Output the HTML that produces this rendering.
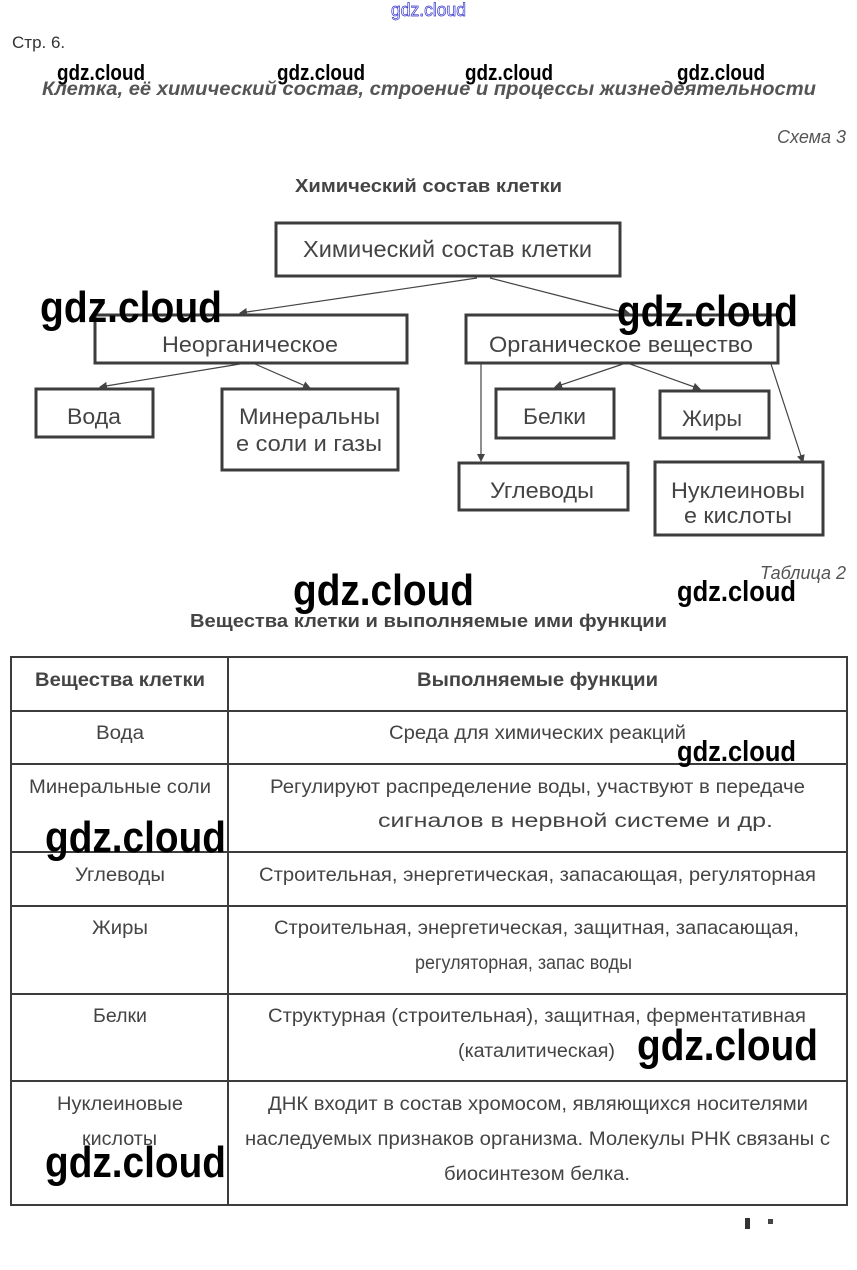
<!DOCTYPE html>
<html><head><meta charset="utf-8"><style>
html,body{margin:0;padding:0;background:#fff;width:857px;height:1270px;overflow:hidden}
svg{display:block}
.t{font-family:"Liberation Sans",sans-serif;fill:#444;font-size:18px}
.b{font-weight:bold}
.i{font-style:italic}
.w{font-family:"Liberation Sans",sans-serif;fill:#000;font-weight:bold}
</style></head><body>
<svg width="857" height="1270" viewBox="0 0 857 1270" xmlns="http://www.w3.org/2000/svg">
<defs><marker id="a" markerWidth="8" markerHeight="8" refX="7" refY="4" orient="auto" markerUnits="userSpaceOnUse"><path d="M0,0 L8,4 L0,8 z" fill="#444"/></marker></defs>
<text x="391" y="16" textLength="75" lengthAdjust="spacingAndGlyphs" style="font-family:'Liberation Sans',sans-serif;font-size:18px;fill:none;stroke:#3333cc;stroke-width:0.7">gdz.cloud</text>
<text class="t" x="12" y="48" style="font-size:17px;fill:#333">Стр. 6.</text>
<text class="t b i" x="42" y="95" textLength="774" lengthAdjust="spacingAndGlyphs" style="fill:#555;font-size:19px">Клетка, её химический состав, строение и процессы жизнедеятельности</text>
<text class="t i" x="846" y="143" text-anchor="end" style="fill:#555;font-size:18px">Схема 3</text>
<text class="t b" x="295" y="192" textLength="267" lengthAdjust="spacingAndGlyphs" style="font-size:18px">Химический состав клетки</text>

<g fill="none" stroke="#3c3c3c" stroke-width="3">
<rect x="276" y="223" width="344" height="53"/>
<rect x="95" y="315" width="312" height="48"/>
<rect x="466" y="315" width="312" height="48"/>
<rect x="36" y="389" width="117" height="48"/>
<rect x="222" y="389" width="176" height="81"/>
<rect x="496" y="389" width="118" height="49"/>
<rect x="660" y="391" width="109" height="47"/>
<rect x="459" y="463" width="169" height="47"/>
<rect x="655" y="462" width="168" height="73"/>
</g>
<g stroke="#444" stroke-width="1.2" marker-end="url(#a)">
<line x1="477" y1="278" x2="240" y2="313"/>
<line x1="490" y1="278" x2="630" y2="314"/>
<line x1="240" y1="364" x2="100" y2="387"/>
<line x1="255" y1="364" x2="310" y2="388"/>
<line x1="481" y1="364" x2="481" y2="461"/>
<line x1="623" y1="364" x2="555" y2="387"/>
<line x1="630" y1="364" x2="700" y2="389"/>
<line x1="771" y1="364" x2="803" y2="462"/>
</g>
<text class="t" x="303" y="257" textLength="289" lengthAdjust="spacingAndGlyphs" style="font-size:23px">Химический состав клетки</text>
<text class="t" x="162" y="352" textLength="176" lengthAdjust="spacingAndGlyphs" style="font-size:22px">Неорганическое</text>
<text class="t" x="489" y="352" textLength="264" lengthAdjust="spacingAndGlyphs" style="font-size:22px">Органическое вещество</text>
<text class="t" x="67" y="424" textLength="54" lengthAdjust="spacingAndGlyphs" style="font-size:22px">Вода</text>
<text class="t" x="239" y="424" textLength="141" lengthAdjust="spacingAndGlyphs" style="font-size:22px">Минеральны</text>
<text class="t" x="236" y="451" textLength="146" lengthAdjust="spacingAndGlyphs" style="font-size:22px">е соли и газы</text>
<text class="t" x="523" y="424" textLength="63" lengthAdjust="spacingAndGlyphs" style="font-size:22px">Белки</text>
<text class="t" x="682" y="426" textLength="60" lengthAdjust="spacingAndGlyphs" style="font-size:22px">Жиры</text>
<text class="t" x="490" y="498" textLength="104" lengthAdjust="spacingAndGlyphs" style="font-size:22px">Углеводы</text>
<text class="t" x="671" y="498" textLength="134" lengthAdjust="spacingAndGlyphs" style="font-size:22px">Нуклеиновы</text>
<text class="t" x="684" y="523" textLength="108" lengthAdjust="spacingAndGlyphs" style="font-size:22px">е кислоты</text>

<text class="t i" x="846" y="579" text-anchor="end" style="fill:#555;font-size:18px">Таблица 2</text>
<text class="t b" x="190" y="627" textLength="477" lengthAdjust="spacingAndGlyphs" style="font-size:18px">Вещества клетки и выполняемые ими функции</text>

<g stroke="#3c3c3c" stroke-width="2" fill="none">
<rect x="11" y="657" width="836" height="548"/>
<line x1="228" y1="657" x2="228" y2="1205"/>
<line x1="11" y1="711" x2="847" y2="711"/>
<line x1="11" y1="764" x2="847" y2="764"/>
<line x1="11" y1="852" x2="847" y2="852"/>
<line x1="11" y1="906" x2="847" y2="906"/>
<line x1="11" y1="994" x2="847" y2="994"/>
<line x1="11" y1="1081" x2="847" y2="1081"/>
</g>
<g>
<text class="t b" x="35" y="686" textLength="170" lengthAdjust="spacingAndGlyphs" style="font-size:19px">Вещества клетки</text>
<text class="t b" x="417" y="686" textLength="241" lengthAdjust="spacingAndGlyphs" style="font-size:19px">Выполняемые функции</text>
<text class="t" x="96" y="739" textLength="48" lengthAdjust="spacingAndGlyphs" style="font-size:19px">Вода</text>
<text class="t" x="389" y="739" textLength="297" lengthAdjust="spacingAndGlyphs" style="font-size:19px">Среда для химических реакций</text>
<text class="t" x="29" y="793" textLength="182" lengthAdjust="spacingAndGlyphs" style="font-size:19px">Минеральные соли</text>
<text class="t" x="270" y="793" textLength="535" lengthAdjust="spacingAndGlyphs" style="font-size:19px">Регулируют распределение воды, участвуют в передаче</text>
<text class="t" x="378" y="827" textLength="395" lengthAdjust="spacingAndGlyphs" style="font-size:19px">сигналов в нервной системе и др.</text>
<text class="t" x="75" y="881" textLength="90" lengthAdjust="spacingAndGlyphs" style="font-size:19px">Углеводы</text>
<text class="t" x="259" y="881" textLength="557" lengthAdjust="spacingAndGlyphs" style="font-size:19px">Строительная, энергетическая, запасающая, регуляторная</text>
<text class="t" x="92" y="934" textLength="56" lengthAdjust="spacingAndGlyphs" style="font-size:19px">Жиры</text>
<text class="t" x="274" y="934" textLength="525" lengthAdjust="spacingAndGlyphs" style="font-size:19px">Строительная, энергетическая, защитная, запасающая,</text>
<text class="t" x="415" y="969" textLength="217" lengthAdjust="spacingAndGlyphs" style="font-size:19px">регуляторная, запас воды</text>
<text class="t" x="93" y="1022" textLength="54" lengthAdjust="spacingAndGlyphs" style="font-size:19px">Белки</text>
<text class="t" x="268" y="1022" textLength="538" lengthAdjust="spacingAndGlyphs" style="font-size:19px">Структурная (строительная), защитная, ферментативная</text>
<text class="t" x="458" y="1057" textLength="157" lengthAdjust="spacingAndGlyphs" style="font-size:19px">(каталитическая)</text>
<text class="t" x="57" y="1110" textLength="126" lengthAdjust="spacingAndGlyphs" style="font-size:19px">Нуклеиновые</text>
<text class="t" x="82" y="1145" textLength="75" lengthAdjust="spacingAndGlyphs" style="font-size:19px">кислоты</text>
<text class="t" x="268" y="1110" textLength="540" lengthAdjust="spacingAndGlyphs" style="font-size:19px">ДНК входит в состав хромосом, являющихся носителями</text>
<text class="t" x="245" y="1145" textLength="585" lengthAdjust="spacingAndGlyphs" style="font-size:19px">наследуемых признаков организма. Молекулы РНК связаны с</text>
<text class="t" x="444" y="1180" textLength="186" lengthAdjust="spacingAndGlyphs" style="font-size:19px">биосинтезом белка.</text>
</g>
<rect x="745" y="1218" width="5" height="11" fill="#333"/>
<rect x="768" y="1219" width="5" height="5" fill="#444"/>

<g>
<text class="w" x="57" y="80" textLength="88" lengthAdjust="spacingAndGlyphs" style="font-size:22px">gdz.cloud</text>
<text class="w" x="277" y="80" textLength="88" lengthAdjust="spacingAndGlyphs" style="font-size:22px">gdz.cloud</text>
<text class="w" x="465" y="80" textLength="88" lengthAdjust="spacingAndGlyphs" style="font-size:22px">gdz.cloud</text>
<text class="w" x="677" y="80" textLength="88" lengthAdjust="spacingAndGlyphs" style="font-size:22px">gdz.cloud</text>
<text class="w" x="40" y="322" textLength="182" lengthAdjust="spacingAndGlyphs" style="font-size:44px">gdz.cloud</text>
<text class="w" x="617" y="326" textLength="181" lengthAdjust="spacingAndGlyphs" style="font-size:44px">gdz.cloud</text>
<text class="w" x="293" y="605" textLength="181" lengthAdjust="spacingAndGlyphs" style="font-size:44px">gdz.cloud</text>
<text class="w" x="677" y="601" textLength="119" lengthAdjust="spacingAndGlyphs" style="font-size:29px">gdz.cloud</text>
<text class="w" x="677" y="761" textLength="119" lengthAdjust="spacingAndGlyphs" style="font-size:29px">gdz.cloud</text>
<text class="w" x="45" y="852" textLength="181" lengthAdjust="spacingAndGlyphs" style="font-size:44px">gdz.cloud</text>
<text class="w" x="637" y="1060" textLength="181" lengthAdjust="spacingAndGlyphs" style="font-size:44px">gdz.cloud</text>
<text class="w" x="45" y="1177" textLength="181" lengthAdjust="spacingAndGlyphs" style="font-size:44px">gdz.cloud</text>
</g>
</svg>
</body></html>
